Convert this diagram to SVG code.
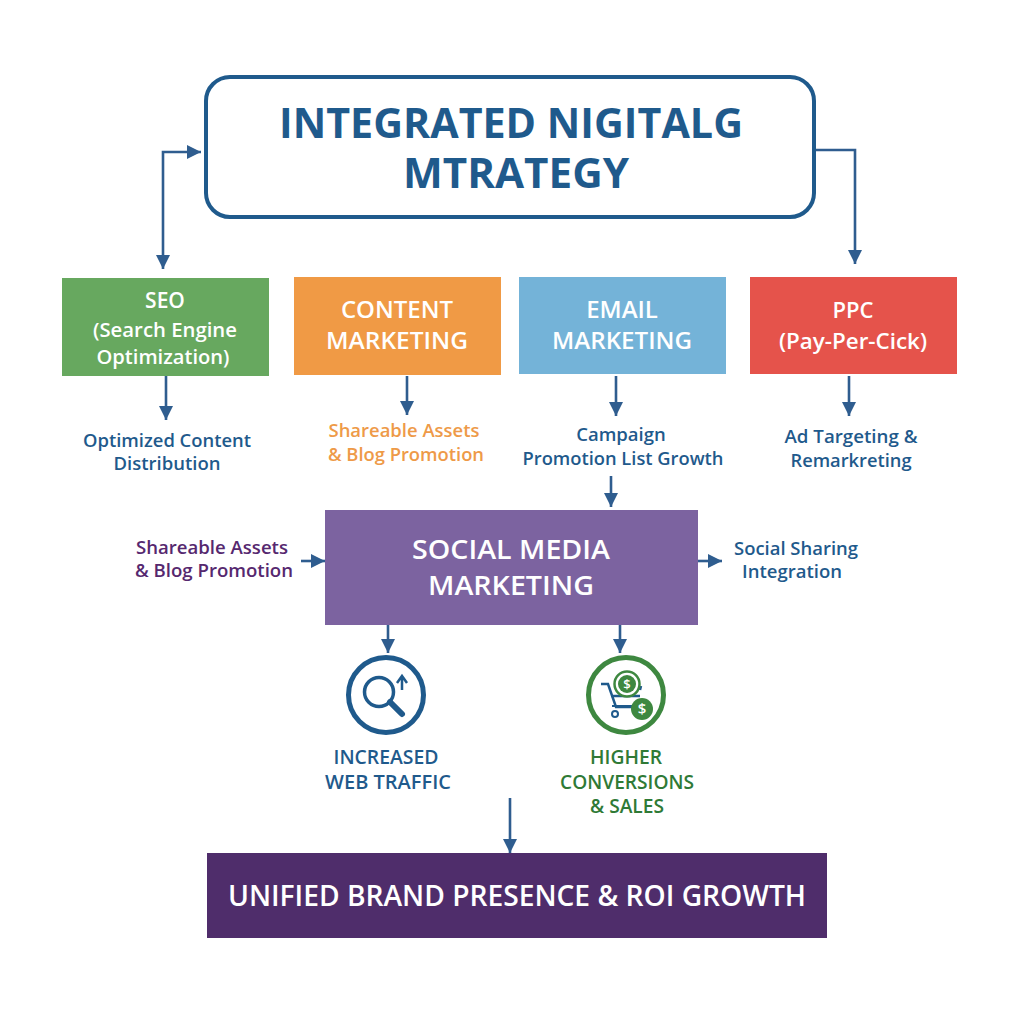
<svg xmlns="http://www.w3.org/2000/svg" width="1024" height="1024" viewBox="0 0 1024 1024">
<style>
text{font-family:"Open Sans","Noto Sans","Liberation Sans",sans-serif;text-anchor:middle;font-weight:600}
.w{fill:#fff}
.b{fill:#1f5a8c}
.box{font-size:24px}
.lab{font-size:18.5px}
.con{fill:none;stroke:#2f5d8f;stroke-width:2.6}
</style>
<defs>
<marker id="a" markerUnits="userSpaceOnUse" markerWidth="15" markerHeight="14" refX="14" refY="7" orient="auto-start-reverse"><path d="M0 0L14 7L0 14Z" fill="#2f5d8f"/></marker>
</defs>
<rect width="1024" height="1024" fill="#fff"/>
<g id="connectors">
<path class="con" marker-start="url(#a)" marker-end="url(#a)" d="M163 269V152H201"/>
<path class="con" marker-end="url(#a)" d="M816 150H855V264"/>
<path class="con" marker-end="url(#a)" d="M166 376V420"/>
<path class="con" marker-end="url(#a)" d="M407 376V415"/>
<path class="con" marker-end="url(#a)" d="M616 376V416"/>
<path class="con" marker-end="url(#a)" d="M849 376V416"/>
<path class="con" marker-end="url(#a)" d="M611 476V507"/>
<path class="con" marker-end="url(#a)" d="M301 561H325"/>
<path class="con" marker-end="url(#a)" d="M698 561H722"/>
<path class="con" marker-end="url(#a)" d="M388 625V653"/>
<path class="con" marker-end="url(#a)" d="M620 625V653"/>
<path class="con" marker-end="url(#a)" d="M510 798V853"/>
</g>
<g id="title">
<rect x="206" y="77" width="608" height="140" rx="24" fill="#fff" stroke="#1f5a8c" stroke-width="4"/>
<text class="b" font-size="42" font-weight="700" style="font-weight:700" x="511" y="138" textLength="464" lengthAdjust="spacingAndGlyphs">INTEGRATED NIGITALG</text>
<text class="b" font-size="42" style="font-weight:700" x="516" y="188" textLength="226" lengthAdjust="spacingAndGlyphs">MTRATEGY</text>
</g>
<g id="seo">
<rect x="62" y="278" width="207" height="98" fill="#67a85f"/>
<text class="w" font-size="21" x="165" y="308">SEO</text>
<text class="w" font-size="20.5" x="165" y="337" textLength="144" lengthAdjust="spacingAndGlyphs">(Search Engine</text>
<text class="w" font-size="20.5" x="163" y="364" textLength="133" lengthAdjust="spacingAndGlyphs">Optimization)</text>
</g>
<g id="content">
<rect x="294" y="277" width="207" height="98" fill="#f09a45"/>
<text class="w box" x="397" y="318">CONTENT</text>
<text class="w box" x="397" y="349" textLength="142" lengthAdjust="spacingAndGlyphs">MARKETING</text>
</g>
<g id="email">
<rect x="519" y="277" width="207" height="97" fill="#74b3d8"/>
<text class="w box" x="622" y="318">EMAIL</text>
<text class="w box" x="622" y="349" textLength="140" lengthAdjust="spacingAndGlyphs">MARKETING</text>
</g>
<g id="ppc">
<rect x="750" y="277" width="207" height="97" fill="#e5534b"/>
<text class="w" font-size="22" x="853" y="318">PPC</text>
<text class="w" font-size="21.5" x="853" y="349" textLength="148" lengthAdjust="spacingAndGlyphs">(Pay-Per-Cick)</text>
</g>
<g id="seo-note">
<text class="b lab" x="167" y="447" textLength="168" lengthAdjust="spacingAndGlyphs">Optimized Content</text>
<text class="b lab" x="167" y="470">Distribution</text>
</g>
<g id="content-note">
<text class="lab" fill="#ee9a48" x="404" y="437" textLength="151" lengthAdjust="spacingAndGlyphs">Shareable Assets</text>
<text class="lab" fill="#ee9a48" x="406" y="461" textLength="156" lengthAdjust="spacingAndGlyphs">&amp; Blog Promotion</text>
</g>
<g id="email-note">
<text class="b lab" x="621" y="441">Campaign</text>
<text class="b lab" x="623" y="465" textLength="201" lengthAdjust="spacingAndGlyphs">Promotion List Growth</text>
</g>
<g id="ppc-note">
<text class="b lab" x="851" y="443" textLength="133" lengthAdjust="spacingAndGlyphs">Ad Targeting &amp;</text>
<text class="b lab" x="851" y="467" textLength="121" lengthAdjust="spacingAndGlyphs">Remarkreting</text>
</g>
<g id="social">
<rect x="325" y="510" width="373" height="115" fill="#7c63a0"/>
<text class="w" font-size="27" x="511" y="559" textLength="198" lengthAdjust="spacingAndGlyphs">SOCIAL MEDIA</text>
<text class="w" font-size="27" x="511" y="595" textLength="166" lengthAdjust="spacingAndGlyphs">MARKETING</text>
</g>
<g id="social-left">
<text class="lab" fill="#56286f" x="212" y="554" textLength="152" lengthAdjust="spacingAndGlyphs">Shareable Assets</text>
<text class="lab" fill="#56286f" x="214" y="577" textLength="158" lengthAdjust="spacingAndGlyphs">&amp; Blog Promotion</text>
</g>
<g id="social-right">
<text class="b lab" x="796" y="555" textLength="124" lengthAdjust="spacingAndGlyphs">Social Sharing</text>
<text class="b lab" x="792" y="578">Integration</text>
</g>
<g id="traffic">
<circle cx="386" cy="695" r="37.5" fill="#fff" stroke="#1f5a8c" stroke-width="5"/>
<circle cx="379" cy="692" r="14.5" fill="none" stroke="#1f5a8c" stroke-width="3.5"/>
<path d="M390 702L402 714" stroke="#1f5a8c" stroke-width="6" stroke-linecap="round"/>
<path d="M402 690V676M397 683L402 676L407 683" fill="none" stroke="#1f5a8c" stroke-width="2.5"/>
<text class="b" font-size="20" x="386" y="764" textLength="105" lengthAdjust="spacingAndGlyphs">INCREASED</text>
<text class="b" font-size="20" x="388" y="789">WEB TRAFFIC</text>
</g>
<g id="conversions">
<circle cx="626" cy="695" r="37.5" fill="#fff" stroke="#3e8840" stroke-width="5"/>
<path d="M601 684H608L616 707H634M611 696H640M640 690L641 686" fill="none" stroke="#1f5a8c" stroke-width="2.5"/>
<path d="M612 706H638" stroke="#1f5a8c" stroke-width="2"/>
<circle cx="615" cy="714" r="3" fill="none" stroke="#1f5a8c" stroke-width="2"/>
<circle cx="627" cy="684" r="12.5" fill="#fff" stroke="#3e8840" stroke-width="2.5"/>
<circle cx="627" cy="684" r="9" fill="#3e8840"/>
<text class="w" font-size="13" x="627" y="689">$</text>
<circle cx="642" cy="709" r="11" fill="#3e8840"/>
<text class="w" font-size="15" x="642" y="714">$</text>
<text font-size="20" fill="#2f7a36" x="626" y="764" textLength="72" lengthAdjust="spacingAndGlyphs">HIGHER</text>
<text font-size="20" fill="#2f7a36" x="627" y="789" textLength="134" lengthAdjust="spacingAndGlyphs">CONVERSIONS</text>
<text font-size="20" fill="#2f7a36" x="627" y="813" textLength="74" lengthAdjust="spacingAndGlyphs">&amp; SALES</text>
</g>
<g id="outcome">
<rect x="207" y="853" width="620" height="85" fill="#4f2d6b"/>
<text class="w" font-size="28" x="517" y="906" textLength="578" lengthAdjust="spacingAndGlyphs">UNIFIED BRAND PRESENCE &amp; ROI GROWTH</text>
</g>
</svg>
